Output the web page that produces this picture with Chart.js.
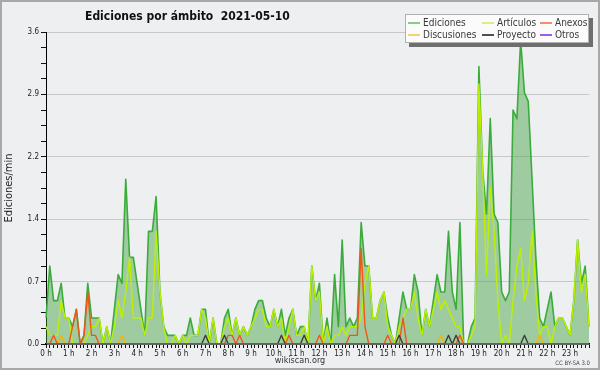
<!DOCTYPE html>
<html>
<head>
<meta charset="utf-8">
<script src="https://cdn.jsdelivr.net/npm/chart.js@4.4.1/dist/chart.umd.min.js"></script>
<style>
  html, body { margin: 0; padding: 0; }
  #wrap { position: relative; width: 600px; height: 370px; background: #eeeff1; overflow: hidden;
          font-family: 'DejaVu Sans Condensed', 'DejaVu Sans', sans-serif; }
  #frame { position: absolute; left: 0; top: 0; width: 600px; height: 370px; box-sizing: border-box;
           border: 2px solid #a8a8a8; pointer-events: none; }
  #title { position: absolute; left: 85px; top: 9px; font-weight: bold; font-size: 12px; color: #111; white-space: pre; }
  #legend { position: absolute; left: 405px; top: 14px; width: 184px; height: 29px; box-sizing: border-box;
            background: #fbfbfb; border: 1px solid #b0b0b0; box-shadow: 4px 4px 0 #6e6e6e; }
  .item { position: absolute; font-size: 10px; color: #3a3a3a; white-space: nowrap; line-height: 12px; }
  .item i { display: inline-block; width: 12px; height: 0; border-top: 2px solid; vertical-align: middle; margin-right: 3px; }
  #foot { position: absolute; left: 0; width: 600px; top: 355px; text-align: center; font-size: 9px; color: #333; }
  #cc { position: absolute; right: 10px; top: 359px; font-size: 6px; color: #444; }
</style>
</head>
<body>
<div id="wrap">
  <canvas id="chart" width="600" height="370"></canvas>
  <div id="title">Ediciones por ámbito  2021-05-10</div>
  <div id="legend"></div>
  <div id="foot">wikiscan.org</div>
  <div id="cc">CC BY-SA 3.0</div>
  <div id="frame"></div>
</div>
<script>
// one value every 10 minutes, in edits per minute
const hourLabels = ['0 h','1 h','2 h','3 h','4 h','5 h','6 h','7 h','8 h','9 h','10 h','11 h',
  '12 h','13 h','14 h','15 h','16 h','17 h','18 h','19 h','20 h','21 h','22 h','23 h'];
const yTickLabels = ['0.0','0.7','1.4','2.2','2.9','3.6'];
const seriesNames = ['Ediciones','Artículos','Anexos','Discusiones','Proyecto','Otros'];

const ediciones = [
  0.3,0.9,0.5,0.5,0.7,0.3,  0.3,0.2,0.4,0,0.1,0.7,  0.3,0.3,0.3,0,0.2,0,  0.4,0.8,0.7,1.9,1.0,1.0,
  0.7,0.4,0.1,1.3,1.3,1.7,  0.6,0.2,0.1,0.1,0.1,0,  0.1,0.1,0.3,0.1,0.1,0.4,  0.4,0,0.3,0,0,0.3,
  0.4,0.1,0.3,0.1,0.2,0.1,  0.2,0.4,0.5,0.5,0.3,0.2,  0.4,0.2,0.4,0.1,0.3,0.4,  0.1,0.2,0.2,0,0.9,0.5,
  0.7,0,0.3,0,0.8,0.2,  1.2,0.2,0.3,0.2,0.3,1.4,  0.9,0.9,0.3,0.3,0.5,0.6,  0.3,0.1,0,0.3,0.6,0.4,
  0.4,0.8,0.6,0.1,0.4,0.2,  0.5,0.8,0.6,0.6,1.3,0.6,  0.4,1.4,0,0,0.2,0.3,  3.2,2.0,1.5,2.6,1.5,1.4,
  0.6,0.5,0.6,2.7,2.6,3.5,  2.9,2.8,1.9,1.0,0.3,0.2,  0.4,0.6,0.2,0.3,0.3,0.2,  0.1,0.5,1.2,0.7,0.9,0.2
];
const articulos = [
  0.2,0.1,0.1,0.1,0.5,0.3,  0.3,0,0,0,0,0.1,  0.2,0.2,0.3,0,0.2,0,  0.2,0.5,0.3,0.6,1.0,0.3,
  0.3,0.3,0.1,0.3,0.3,1.3,  0.6,0.2,0,0,0.1,0,  0.1,0,0.1,0.1,0.1,0.4,  0.3,0,0.3,0,0,0.2,
  0.3,0.1,0.3,0.1,0.2,0.1,  0.2,0.3,0.4,0.4,0.2,0.2,  0.4,0.2,0.3,0,0.2,0.4,  0.1,0.1,0.2,0,0.9,0.5,
  0.6,0,0.2,0,0.1,0.1,  0.2,0.1,0.2,0.2,0.2,0.3,  0.7,0.9,0.3,0.3,0.5,0.6,  0.2,0.1,0,0.2,0.3,0.4,
  0.4,0.6,0.3,0.1,0.4,0.2,  0.4,0.6,0.4,0.5,0.4,0.3,  0.2,0.2,0,0,0.1,0.2,  3.0,2.0,0.8,1.8,1.3,0.5,
  0,0.1,0,0.5,0.9,1.1,  0.5,0.7,1.3,0.6,0.1,0.2,  0.2,0,0.2,0.3,0.3,0.2,  0.1,0.5,1.2,0.6,0.8,0.2
];
const anexos = [
  0,0,0.1,0,0,0,  0,0.2,0.4,0,0.1,0.6,  0.1,0.1,0,0,0,0,  0,0,0,0,0,0,
  0,0,0,0,0,0,  0,0,0,0,0,0,  0,0,0,0,0,0,  0,0,0,0,0,0,
  0.1,0.1,0,0.1,0,0,  0,0,0,0,0,0,  0,0,0,0,0.1,0,  0,0,0,0,0,0,
  0.1,0,0,0,0,0,  0,0,0.1,0.1,0.1,1.1,  0.2,0,0,0,0,0,  0.1,0,0,0,0.3,0,
  0,0,0,0,0,0,  0,0,0,0,0,0,  0,0.1,0,0,0,0,  0,0,0,0,0,0,
  0,0,0,0,0,0,  0,0,0,0,0,0,  0,0,0,0,0,0,  0,0,0,0,0,0
];
const discusiones = [
  0,0,0,0,0.1,0,  0,0,0,0,0,0,  0,0,0,0,0,0,  0,0,0.1,0,0,0,
  0,0,0,0,0,0,  0,0,0,0,0,0,  0,0,0,0,0,0,  0,0,0,0,0,0,
  0,0,0,0,0,0,  0,0,0,0,0,0,  0,0,0,0,0,0,  0,0,0,0,0,0,
  0,0,0,0,0,0,  0,0,0,0,0,0,  0,0,0,0,0,0,  0,0,0,0,0,0,
  0,0,0,0,0,0,  0,0,0.1,0,0,0,  0,0,0,0,0,0,  0,0,0,0,0,0,
  0,0,0,0,0,0,  0,0,0,0,0.1,0,  0,0,0,0,0,0,  0,0,0,0,0,0
];
const proyecto = [
  0,0,0,0,0,0,  0,0,0,0,0,0,  0,0,0,0,0,0,  0,0,0,0,0,0,
  0,0,0,0,0,0,  0,0,0,0,0,0,  0,0,0,0,0,0,  0.1,0,0,0,0,0.1,
  0,0,0,0,0,0,  0,0,0,0,0,0,  0,0,0.1,0,0,0,  0,0,0.1,0,0,0,
  0,0,0,0,0,0,  0,0,0,0,0,0,  0,0,0,0,0,0,  0,0,0,0.1,0,0,
  0,0,0,0,0,0,  0,0,0,0,0.1,0,  0.1,0,0,0,0,0,  0,0,0,0,0,0,
  0,0,0,0,0,0,  0.1,0,0,0,0,0,  0,0,0,0,0,0,  0,0,0,0,0,0
];
const otros = [
  0,0,0,0,0,0,  0,0,0,0,0,0,  0,0,0,0,0,0,  0,0,0,0,0,0,
  0,0,0,0,0,0,  0,0,0,0,0,0,  0,0,0,0,0,0,  0,0,0,0,0,0,
  0,0,0,0,0,0,  0,0,0,0,0,0,  0,0,0,0,0,0,  0,0,0,0,0,0,
  0,0,0,0,0,0,  0,0,0,0,0,0,  0,0,0,0,0,0,  0,0,0,0,0,0,
  0,0,0,0,0,0,  0,0,0,0,0,0,  0,0,0,0,0,0,  0,0,0,0,0,0,
  0,0,0,0,0,0,  0,0,0,0,0,0,  0,0,0,0,0,0,  0,0,0,0,0,0
];

const lineColors = ['#3aac3a', '#bdf000', '#f0561a', '#f5b400', '#3c3c3c', '#8a3ff0'];
const legendColors = ['#86cc86', '#d6f07a', '#f09070', '#f5d46a', '#505050', '#9a5cf0'];

const times = [];
hourLabels.forEach((h, i) => {
  ['00','10','20','30','40','50'].forEach(m => times.push(i + ':' + m));
});

const FONT = "'DejaVu Sans Condensed', 'DejaVu Sans', sans-serif";

// legend, three columns by two rows
const legendPos = [[2, 2], [76, 2], [134, 2], [2, 14], [76, 14], [134, 14]];
const legendBox = document.getElementById('legend');
seriesNames.forEach((name, s) => {
  const d = document.createElement('div');
  d.className = 'item';
  d.style.left = legendPos[s][0] + 'px';
  d.style.top = legendPos[s][1] + 'px';
  d.innerHTML = '<i style="border-color:' + legendColors[s] + '"></i>' + name;
  legendBox.appendChild(d);
});

const values = [ediciones, articulos, anexos, discusiones, proyecto, otros];
const datasets = values.map((v, s) => ({
  label: seriesNames[s],
  data: v,
  borderColor: lineColors[s],
  borderWidth: s === 0 ? 1.6 : 1.4,
  backgroundColor: s === 0 ? 'rgba(62,160,62,0.45)' : 'transparent',
  fill: s === 0 ? 'origin' : false,
  order: [6, 5, 3, 4, 2, 1][s]
}));

new Chart(document.getElementById('chart'), {
  type: 'line',
  data: { labels: times, datasets: datasets },
  options: {
    responsive: false,
    animation: false,
    devicePixelRatio: 1,
    layout: { padding: { top: 32, right: 11, left: 0, bottom: 0 } },
    plugins: { legend: { display: false }, title: { display: false }, tooltip: { enabled: false } },
    elements: { point: { radius: 0 }, line: { tension: 0, borderJoinStyle: 'round' } },
    scales: {
      x: {
        z: 1,
        grid: { drawOnChartArea: false, drawTicks: true, tickLength: 4, color: '#111' },
        border: { color: '#000', width: 1.5 },
        ticks: {
          autoSkip: false, maxRotation: 0, minRotation: 0, padding: 1,
          color: '#222', font: { family: FONT, size: 8 },
          callback: (v) => v % 6 === 0 ? hourLabels[v / 6] : ''
        },
        afterFit: (s) => { s.height = 26; }
      },
      y: {
        min: 0, max: 3.6,
        afterBuildTicks: (s) => {
          const t = [];
          for (let k = 0; k <= 20; k++) t.push({ value: k * 0.18 });
          s.ticks = t;
        },
        grid: {
          color: (c) => c.index % 4 === 0 ? '#c8c8c8' : 'rgba(0,0,0,0)',
          tickColor: '#111', tickLength: 5
        },
        border: { color: '#000', width: 1 },
        ticks: {
          padding: 2, color: '#222', font: { family: FONT, size: 8 },
          callback: (v, i) => i % 4 === 0 ? yTickLabels[i / 4] : ''
        },
        title: { display: true, text: 'Ediciones/min', color: '#222', font: { family: FONT, size: 11 }, padding: { top: 3, bottom: 0 } },
        afterFit: (s) => { s.width = 46; }
      }
    }
  }
});
</script>
</body>
</html>
